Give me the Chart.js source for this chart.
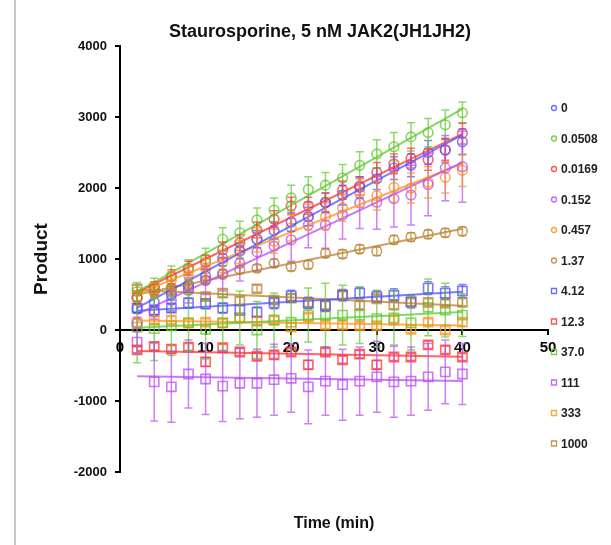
<!DOCTYPE html>
<html>
<head>
<meta charset="utf-8">
<script src="https://cdn.jsdelivr.net/npm/chart.js@4.4.1/dist/chart.umd.min.js"></script>
<style>
  html, body { margin: 0; padding: 0; background: #fff; }
  #wrap { position: relative; width: 611px; height: 545px; }
  #frame { position: absolute; left: 14px; top: 0; height: 545px; border-left: 2px solid #c8c8c8; }
</style>
</head>
<body>
<div id="wrap">
  <canvas id="myChart" width="611" height="545"></canvas>
  <div id="frame"></div>
</div>
<script>
// Time points (min)
const times = [2, 4, 6, 8, 10, 12, 14, 16, 18, 20, 22, 24, 26, 28, 30, 32, 34, 36, 38, 40];

// Staurosporine concentrations (legend)
const concLabels = ['0', '0.0508', '0.0169', '0.152', '0.457', '1.37', '4.12', '12.3', '37.0', '111', '333', '1000'];

// Product values
const p0     = [300, 390, 500, 620, 760, 1010, 1120, 1280, 1400, 1520, 1600, 1790, 1900, 2010, 2130, 2280, 2320, 2500, 2530, 2650];
const p0508  = [540, 600, 760, 850, 1000, 1280, 1370, 1550, 1690, 1860, 1980, 2040, 2140, 2320, 2480, 2580, 2720, 2780, 2890, 3060];
const p0169  = [460, 590, 750, 870, 950, 1130, 1230, 1410, 1560, 1750, 1750, 1800, 1970, 2030, 2220, 2340, 2420, 2400, 2540, 2770];
const p152   = [100, 250, 420, 560, 700, 780, 940, 1100, 1180, 1270, 1480, 1480, 1620, 1790, 1800, 1850, 1900, 2050, 2280, 2300];
const p457   = [450, 560, 700, 770, 860, 960, 1100, 1270, 1250, 1440, 1590, 1600, 1720, 1930, 1890, 2010, 2000, 2080, 2150, 2250];
const p137   = [450, 530, 590, 640, 700, 800, 850, 870, 940, 890, 920, 1080, 1070, 1140, 1110, 1270, 1310, 1350, 1370, 1390];
const p412   = [310, 280, 310, 380, 370, 310, 280, 250, 380, 480, 380, 340, 490, 520, 470, 490, 400, 590, 520, 550];
const p123   = [-280, -230, -270, -240, -450, -250, -310, -370, -350, -310, -490, -310, -420, -340, -490, -380, -380, -210, -280, -380];
const p370   = [40, 20, 60, 100, 10, 100, 170, 0, 140, 110, 210, 210, 210, 210, 160, 170, 100, 320, 280, 210];
const p111   = [-170, -730, -800, -620, -690, -790, -750, -750, -700, -680, -800, -720, -770, -720, -660, -730, -720, -660, -590, -620];
const p333   = [100, 140, 140, 100, 110, 100, 170, 130, 140, 40, 180, 70, 70, 60, 60, 140, 10, 110, 0, 110];
const p1000  = [580, 590, 560, 590, 470, 520, 410, 580, 420, 450, 380, 350, 490, 350, 440, 350, 390, 390, 380, 390];

// Error bar half-heights
const e0     = [60, 70, 80, 90, 100, 110, 110, 120, 120, 130, 130, 140, 140, 150, 150, 160, 160, 170, 170, 180];
const e0508  = [130, 130, 140, 140, 150, 160, 160, 170, 170, 180, 180, 180, 190, 190, 200, 200, 200, 200, 210, 150];
const e0169  = [90, 90, 100, 100, 100, 110, 110, 110, 120, 120, 120, 130, 130, 130, 140, 140, 140, 150, 150, 150];
const e152   = [80, 100, 150, 180, 200, 230, 250, 270, 290, 300, 320, 330, 340, 360, 380, 400, 420, 440, 460, 500];
const e457   = [100, 110, 120, 130, 140, 150, 160, 170, 170, 180, 180, 190, 190, 200, 200, 210, 210, 220, 220, 230];
const e137   = [40, 40, 40, 45, 45, 50, 50, 50, 55, 55, 55, 60, 60, 60, 60, 60, 60, 60, 60, 60];
const e412   = [60, 60, 60, 70, 70, 70, 70, 70, 80, 80, 80, 80, 80, 80, 80, 90, 90, 90, 90, 90];
const e123   = [50, 50, 50, 50, 60, 50, 50, 50, 50, 50, 60, 50, 50, 50, 60, 50, 50, 50, 50, 50];
const e370   = [500, 450, 420, 400, 420, 400, 380, 400, 380, 400, 380, 450, 420, 400, 400, 380, 380, 400, 380, 300];
const e111   = [150, 550, 500, 480, 500, 500, 500, 480, 500, 480, 520, 480, 500, 480, 500, 500, 480, 470, 450, 430];
const e333   = [50, 50, 50, 50, 50, 50, 50, 50, 50, 50, 50, 50, 50, 50, 50, 50, 50, 50, 50, 50];
const e1000  = [50, 50, 50, 50, 50, 50, 50, 50, 50, 50, 50, 50, 50, 50, 50, 50, 50, 50, 50, 50];

const xTicks = [0, 10, 20, 30, 40, 50];
const yTicks = [-2000, -1000, 0, 1000, 2000, 3000, 4000];

const values = [p0, p0508, p0169, p152, p457, p137, p412, p123, p370, p111, p333, p1000];
const errors = [e0, e0508, e0169, e152, e457, e137, e412, e123, e370, e111, e333, e1000];
const colors = ['rgba(80,80,255,', 'rgba(95,200,45,', 'rgba(255,50,50,', 'rgba(185,75,240,', 'rgba(255,145,30,', 'rgba(185,130,50,',
                'rgba(80,80,255,', 'rgba(255,50,50,', 'rgba(95,200,45,', 'rgba(185,75,240,', 'rgba(255,145,30,', 'rgba(185,130,50,'];
const shapes = ['circle', 'circle', 'circle', 'circle', 'circle', 'circle', 'rect', 'rect', 'rect', 'rect', 'rect', 'rect'];

// least squares line through a series
function fit(ys) {
    const n = times.length;
    let sx = 0, sy = 0, sxx = 0, sxy = 0;
    for (let i = 0; i < n; i++) {
        sx += times[i]; sy += ys[i]; sxx += times[i] * times[i]; sxy += times[i] * ys[i];
    }
    const b = (n * sxy - sx * sy) / (n * sxx - sx * sx);
    const a = (sy - b * sx) / n;
    return [{x: times[0], y: a + b * times[0]}, {x: times[n - 1], y: a + b * times[n - 1]}];
}

const datasets = [];
values.forEach((ys, k) => {
    datasets.push({
        type: 'line',
        label: concLabels[k] + ' fit',
        data: fit(ys),
        borderColor: colors[k] + '0.75)',
        borderWidth: 2,
        pointRadius: 0,
        fill: false
    });
});
values.forEach((ys, k) => {
    datasets.push({
        type: 'scatter',
        label: concLabels[k],
        data: times.map((t, i) => ({x: t, y: ys[i]})),
        errors: errors[k],
        pointStyle: shapes[k],
        pointRadius: shapes[k] === 'rect' ? 6.5 : 4.8,
        pointBorderWidth: 1.6,
        borderColor: colors[k] + '0.75)',
        backgroundColor: 'rgba(0,0,0,0)',
        errColor: colors[k] + '0.7)'
    });
});

const extras = {
    id: 'extras',
    afterDatasetsDraw(chart) {
        const ctx = chart.ctx;
        const xs = chart.scales.x, ysc = chart.scales.y;
        ctx.save();
        chart.data.datasets.forEach(ds => {
            if (!ds.errors) return;
            ctx.strokeStyle = ds.errColor;
            ctx.lineWidth = 1.5;
            ds.data.forEach((p, i) => {
                const px = xs.getPixelForValue(p.x);
                const top = ysc.getPixelForValue(p.y + ds.errors[i]);
                const bot = ysc.getPixelForValue(p.y - ds.errors[i]);
                ctx.beginPath();
                ctx.moveTo(px, top); ctx.lineTo(px, bot);
                ctx.moveTo(px - 4, top); ctx.lineTo(px + 4, top);
                ctx.moveTo(px - 4, bot); ctx.lineTo(px + 4, bot);
                ctx.stroke();
            });
        });
        ctx.restore();
    },
    afterDraw(chart) {
        const ctx = chart.ctx;
        const area = chart.chartArea;
        ctx.save();
        // title
        ctx.fillStyle = '#111';
        ctx.font = 'bold 18px "Liberation Sans", Arial, sans-serif';
        ctx.textAlign = 'center';
        ctx.textBaseline = 'middle';
        ctx.fillText('Staurosporine, 5 nM JAK2(JH1JH2)', area.left + 200, 32);
        // legend
        ctx.font = 'bold 12px "Liberation Sans", Arial, sans-serif';
        ctx.textAlign = 'left';
        concLabels.forEach((lab, k) => {
            const y = 108 + k * 30.5;
            const mx = area.right + 6;
            ctx.strokeStyle = colors[k] + '0.85)';
            ctx.lineWidth = 1.3;
            ctx.beginPath();
            if (shapes[k] === 'rect') ctx.rect(mx - 2.5, y - 2.5, 5, 5);
            else ctx.arc(mx, y, 2.5, 0, Math.PI * 2);
            ctx.stroke();
            ctx.fillStyle = '#222';
            ctx.fillText(lab, mx + 7, y + 1);
        });
        ctx.restore();
    }
};

new Chart(document.getElementById('myChart'), {
    data: { datasets: datasets },
    options: {
        responsive: false,
        animation: false,
        layout: { padding: { left: 20, right: 63, top: 46, bottom: 0 } },
        scales: {
            x: {
                type: 'linear',
                position: { y: 0 },
                min: 0,
                max: 50,
                afterFit: s => { s.height = 0; },
                afterBuildTicks: s => { s.ticks = xTicks.map(v => ({value: v})); },
                grid: { display: true, drawOnChartArea: false, drawTicks: true, tickLength: 4, color: '#000', lineWidth: 2 },
                border: { display: true, color: '#000', width: 2 },
                ticks: { color: '#000', padding: 5, maxRotation: 0, callback: v => String(v),
                         font: { size: 15, weight: 'bold', family: '"Liberation Sans", Arial' } }
            },
            xt: {
                type: 'linear',
                position: 'bottom',
                min: 0,
                max: 50,
                afterFit: s => { s.height = 73; },
                grid: { display: false },
                border: { display: false },
                ticks: { display: false },
                title: { display: true, text: 'Time (min)', color: '#111', padding: { top: 0, bottom: 12 },
                         font: { size: 16, weight: 'bold', family: '"Liberation Sans", Arial' } }
            },
            y: {
                type: 'linear',
                min: -2000,
                max: 4000,
                afterFit: s => { s.width = 100; },
                afterBuildTicks: s => { s.ticks = yTicks.map(v => ({value: v})); },
                grid: { display: true, drawOnChartArea: false, drawTicks: true, tickLength: 5, color: '#000', lineWidth: 2 },
                border: { display: true, color: '#000', width: 2 },
                ticks: { color: '#111', padding: 8, callback: v => String(v),
                         font: { size: 13, weight: 'bold', family: '"Liberation Sans", Arial' } },
                title: { display: true, text: 'Product', color: '#111', padding: { top: 10, bottom: 0 },
                         font: { size: 19, weight: 'bold', family: '"Liberation Sans", Arial' } }
            }
        },
        plugins: {
            legend: { display: false },
            title: { display: false },
            tooltip: { enabled: false }
        }
    },
    plugins: [extras]
});
</script>
</body>
</html>
